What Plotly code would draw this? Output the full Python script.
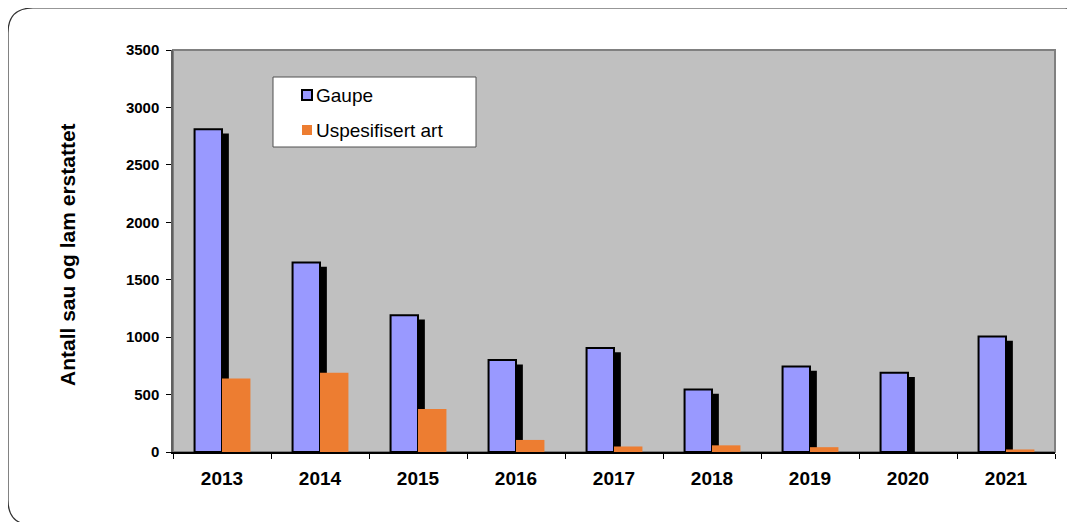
import plotly.graph_objects as go

# Data
YEARS = ["2013", "2014", "2015", "2016", "2017", "2018", "2019", "2020", "2021"]
GAUPE = [2810, 1650, 1190, 800, 905, 545, 745, 690, 1005]
USPESIFISERT = [640, 690, 375, 105, 48, 58, 42, 0, 22]

# the page body adds an 8 px margin, so the figure is drawn 8 px in from the corner
PAGE_OFF = 8
W, H = 1075 - PAGE_OFF, 522 - PAGE_OFF
M_L, M_R, M_T, M_B = 173 - PAGE_OFF, 20, 50 - PAGE_OFF, 70
PW, PH = W - M_L - M_R, H - M_T - M_B
Y_MAX = 3500

FONT = "Arial, Liberation Sans, sans-serif"
GAUPE_COLOR = "#9999FF"
ORANGE = "#ED7D31"


def px_x(px):
    # screen pixel -> paper fraction
    return (px - PAGE_OFF - M_L) / PW


def px_y(py):
    return (H - M_B - (py - PAGE_OFF)) / PH


# drop shadow behind the Gaupe bars: ~4 px lower, ~6 px right
shadow_drop = 4.3 * Y_MAX / PH
shadow_vals = [max(v - shadow_drop, 0) for v in GAUPE]

fig = go.Figure()

fig.add_trace(go.Bar(
    x=YEARS, y=shadow_vals,
    offset=-0.22, width=0.29,
    marker=dict(color="black", line=dict(width=0)),
    showlegend=False, hoverinfo="skip",
))
fig.add_trace(go.Bar(
    x=YEARS, y=GAUPE, name="Gaupe",
    offset=-0.28, width=0.28,
    marker=dict(color=GAUPE_COLOR, line=dict(color="black", width=2)),
    showlegend=False,
))
fig.add_trace(go.Bar(
    x=YEARS, y=USPESIFISERT, name="Uspesifisert art",
    offset=0.0, width=0.29,
    marker=dict(color=ORANGE, line=dict(width=0)),
    showlegend=False,
))

shapes = []
# plot area border (grey)
shapes.append(dict(type="rect", xref="paper", yref="paper", x0=0, x1=1, y0=0, y1=1,
                   line=dict(color="#808080", width=2), layer="below"))

# rounded outer frame
fx0, fy0, fx1, fy1, r = 8, 8, 1090, 525, 25
path = (
    f"M {px_x(fx0)},{px_y(fy0 + r)} "
    f"Q {px_x(fx0)},{px_y(fy0)} {px_x(fx0 + r)},{px_y(fy0)} "
    f"L {px_x(fx1 - r)},{px_y(fy0)} "
    f"Q {px_x(fx1)},{px_y(fy0)} {px_x(fx1)},{px_y(fy0 + r)} "
    f"L {px_x(fx1)},{px_y(fy1 - r)} "
    f"Q {px_x(fx1)},{px_y(fy1)} {px_x(fx1 - r)},{px_y(fy1)} "
    f"L {px_x(fx0 + r)},{px_y(fy1)} "
    f"Q {px_x(fx0)},{px_y(fy1)} {px_x(fx0)},{px_y(fy1 - r)} Z"
)
shapes.append(dict(type="path", xref="paper", yref="paper", path=path,
                   line=dict(color="#303030", width=1.2)))

# legend box
shapes.append(dict(type="rect", xref="paper", yref="paper",
                   x0=px_x(273), x1=px_x(476), y0=px_y(147), y1=px_y(77),
                   fillcolor="white", line=dict(color="#505050", width=1)))
shapes.append(dict(type="rect", xref="paper", yref="paper",
                   x0=px_x(302), x1=px_x(312), y0=px_y(100), y1=px_y(90),
                   fillcolor=GAUPE_COLOR, line=dict(color="black", width=2)))
shapes.append(dict(type="rect", xref="paper", yref="paper",
                   x0=px_x(302), x1=px_x(312), y0=px_y(135), y1=px_y(125),
                   fillcolor=ORANGE, line=dict(width=0)))

annotations = [
    dict(text="Gaupe", xref="paper", yref="paper", x=px_x(314), y=px_y(95),
         xanchor="left", yanchor="middle", showarrow=False,
         font=dict(family=FONT, size=19, color="black")),
    dict(text="Uspesifisert art", xref="paper", yref="paper", x=px_x(314), y=px_y(130),
         xanchor="left", yanchor="middle", showarrow=False,
         font=dict(family=FONT, size=19, color="black")),
    dict(text="<b>Antall sau og lam erstattet</b>", xref="paper", yref="paper",
         x=px_x(68), y=px_y(255), textangle=-90,
         xanchor="center", yanchor="middle", showarrow=False,
         font=dict(family=FONT, size=21, color="black")),
]

fig.update_layout(
    width=W, height=H,
    margin=dict(l=M_L, r=M_R, t=M_T, b=M_B, autoexpand=False),
    paper_bgcolor="white",
    plot_bgcolor="#C0C0C0",
    barmode="overlay",
    showlegend=False,
    shapes=shapes,
    annotations=annotations,
    font=dict(family=FONT, color="black"),
)
fig.update_xaxes(
    type="category", tickson="boundaries",
    ticks="outside", ticklen=5, tickcolor="black", tickwidth=1,
    showline=True, linecolor="black", linewidth=1.5,
    showgrid=False, ticklabelstandoff=8,
    tickfont=dict(family=FONT, size=19, weight="bold"),
)
fig.update_yaxes(
    range=[0, Y_MAX], dtick=500,
    ticks="outside", ticklen=5, tickcolor="black", tickwidth=1,
    showline=True, linecolor="#606060", linewidth=1.5,
    showgrid=False, zeroline=False, ticklabelstandoff=4,
    tickfont=dict(family=FONT, size=15, weight="bold"),
)

fig.write_html("out.html")
